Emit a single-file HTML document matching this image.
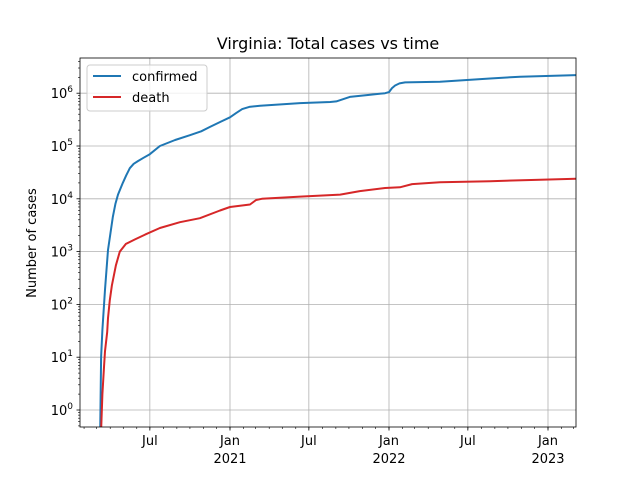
<!DOCTYPE html>
<html><head><meta charset="utf-8"><style>
body{margin:0;background:#fff}
svg text{font-family:"DejaVu Sans","Liberation Sans",sans-serif;fill:#000}
</style></head><body>
<svg id="c" width="640" height="480" xmlns="http://www.w3.org/2000/svg">
<rect width="640" height="480" fill="#fff"/>
<text x="328" y="49" font-size="16" text-anchor="middle">Virginia: Total cases vs time</text>
<text transform="translate(36,243) rotate(-90)" font-size="13" text-anchor="middle">Number of cases</text>
</svg>
<script>
const confDays=[68,70,73,79,86,97,103,109,115,120,128,136,145,155,168,182,205,240,274,300,320,345,366,380,394,410,435,527,596,610,641,680,722,731,738,745,755,768,848,963,1032,1160];
const confVals=[0.4,10,33,190,1070,4500,8000,12000,16000,20000,28000,38000,46000,52000,60000,70000,100000,130000,160000,190000,230000,290000,350000,420000,500000,550000,580000,650000,680000,700000,850000,920000,1000000,1050000,1250000,1400000,1530000,1600000,1650000,1900000,2050000,2200000];
const deathDays=[70,73,77,79,84,86,90,95,104,113,127,148,171,205,251,297,343,366,412,426,439,527,619,664,722,756,784,848,963,1078,1160];
const deathVals=[0.4,2,7,13,30,55,120,230,550,1000,1400,1700,2100,2800,3600,4300,6000,7000,7800,9500,10000,11000,12000,14000,16000,16500,19000,20500,21500,23000,24000];
const xTickDays=[182,366,547,731,912,1096];
const xTickLabels=["Jul","Jan\n2021","Jul","Jan\n2022","Jul","Jan\n2023"];
const yTickExps=[0,1,2,3,4,5,6];

const L=80,R=576,T=58,B=427;
const PXD=159/365;
function xs(d){return 230+(d-366)*PXD;}
function ys(v){return 410-Math.log10(v)*52.8;}
const svg=document.getElementById('c');
const NS="http://www.w3.org/2000/svg";
function mk(tag,attrs,parent){const e=document.createElementNS(NS,tag);for(const k in attrs)e.setAttribute(k,attrs[k]);(parent||svg).appendChild(e);return e;}
const clip=mk('clipPath',{id:'pc'});mk('rect',{x:L,y:T,width:R-L,height:B-T},clip);
yTickExps.forEach(e=>{const y=ys(Math.pow(10,e));
const g=mk('line',{x1:L,x2:R,y1:y,y2:y,stroke:'#b0b0b0','stroke-width':0.8});

});
xTickDays.forEach(d=>{const x=xs(d);
const g=mk('line',{x1:x,x2:x,y1:T,y2:B,stroke:'#b0b0b0','stroke-width':0.8});

});
function line(days,vals,color,name){
const pts=days.map((d,i)=>xs(d).toFixed(1)+','+ys(vals[i]).toFixed(1)).join(' ');
const p=mk('polyline',{points:pts,fill:'none',stroke:color,'stroke-width':2,'clip-path':'url(#pc)','stroke-linejoin':'round'});

}
line(confDays,confVals,'#1f77b4','confirmed-line');
line(deathDays,deathVals,'#d62728','death-line');
mk('rect',{x:L,y:T,width:R-L,height:B-T,fill:'none',stroke:'#000','stroke-width':0.8});
yTickExps.forEach(e=>{const y=ys(Math.pow(10,e));
mk('line',{x1:L-3.5,x2:L,y1:y,y2:y,stroke:'#000','stroke-width':0.8});
const t=mk('text',{x:L-7,y:y+5,'font-size':13,'text-anchor':'end'});


t.textContent='10';const s=mk('tspan',{dy:-6,'font-size':9},t);s.textContent=String(e);
for(let m=2;m<10;m++){const yy=ys(m*Math.pow(10,e));if(yy>T&&yy<B)mk('line',{x1:L-2,x2:L,y1:yy,y2:yy,stroke:'#000','stroke-width':0.6});}
for(let m=2;m<10;m++){const yy=ys(m*Math.pow(10,e-1));if(e===0&&yy>T&&yy<B)mk('line',{x1:L-2,x2:L,y1:yy,y2:yy,stroke:'#000','stroke-width':0.6});}
});
for(let y=2020;y<=2023;y++)for(let m=0;m<12;m++){const d=(Date.UTC(y,m,1)-Date.UTC(2020,0,1))/864e5;const x=xs(d);if(x>=L&&x<=R)mk('line',{x1:x,x2:x,y1:B,y2:B+2,stroke:'#000','stroke-width':0.6});}
xTickDays.forEach((d,i)=>{const x=xs(d);
mk('line',{x1:x,x2:x,y1:B,y2:B+3.5,stroke:'#000','stroke-width':0.8});
const parts=xTickLabels[i].split('\n');
parts.forEach((p,j)=>{const t=mk('text',{x:x,y:B+18+j*18,'font-size':13,'text-anchor':'middle'});


t.textContent=p;});});
const lg=mk('g',{});


mk('rect',{x:87,y:65,width:120,height:46,rx:3,fill:'#fff','fill-opacity':0.8,stroke:'#ccc'},lg);
[['confirmed','#1f77b4',76],['death','#d62728',97]].forEach(([n,c,y])=>{
mk('line',{x1:93,x2:121,y1:y,y2:y,stroke:c,'stroke-width':2},lg);
const t=mk('text',{x:132,y:y+5,'font-size':13},lg);


t.textContent=n;});
</script>
</body></html>
